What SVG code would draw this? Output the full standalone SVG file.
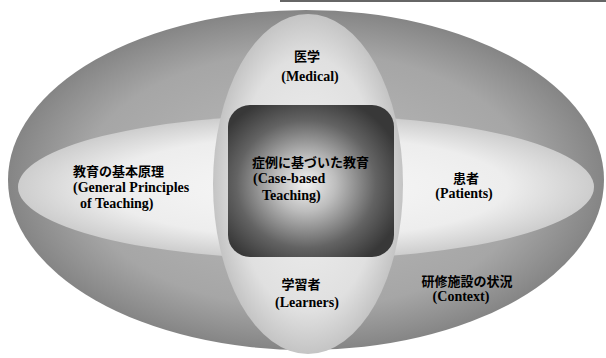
<svg xmlns="http://www.w3.org/2000/svg" width="606" height="358" viewBox="0 0 606 358">
<defs>
<radialGradient id="gOuter" cx="0.5" cy="0.5" r="0.5">
<stop offset="0" stop-color="#bcbcbc"/>
<stop offset="0.75" stop-color="#a6a6a6"/>
<stop offset="1" stop-color="#858585"/>
</radialGradient>
<radialGradient id="gHoriz" cx="0.5" cy="0.5" r="0.5">
<stop offset="0" stop-color="#f8f8f8"/>
<stop offset="0.7" stop-color="#ededed"/>
<stop offset="1" stop-color="#cdcdcd"/>
</radialGradient>
<radialGradient id="gVert" cx="0.5" cy="0.5" r="0.5">
<stop offset="0" stop-color="#f0f0f0"/>
<stop offset="0.75" stop-color="#e0e0e0"/>
<stop offset="1" stop-color="#c4c4c4"/>
</radialGradient>
<radialGradient id="gCore" cx="0.47" cy="0.52" r="0.6">
<stop offset="0" stop-color="#f2f2f2"/>
<stop offset="0.3" stop-color="#bdbdbd"/>
<stop offset="0.7" stop-color="#636363"/>
<stop offset="1" stop-color="#383838"/>
</radialGradient>
<style>
.jp{font-family:"Noto Sans CJK JP","Noto Sans CJK SC",sans-serif;font-weight:bold;font-size:13px;fill:#000}
.en{font-family:"Liberation Serif","Times New Roman",serif;font-weight:bold;font-size:14px;fill:#000}
.c{text-anchor:middle}
</style>
</defs>
<rect x="0" y="0" width="606" height="358" fill="#ffffff"/>
<rect x="280" y="0" width="326" height="2" fill="#666"/>
<g id="context">
<ellipse cx="306" cy="180" rx="298" ry="170" fill="url(#gOuter)"/>
<text class="jp c" x="467" y="285.5">研修施設の状況</text>
<text class="en c" x="461" y="301">(Context)</text>
</g>
<g id="principles-patients">
<ellipse cx="306" cy="187" rx="288" ry="72" fill="url(#gHoriz)"/>
</g>
<g id="medical-learners">
<ellipse cx="308" cy="184" rx="95" ry="170" fill="url(#gVert)"/>
</g>
<g id="principles">
<text class="jp" x="73" y="175.5">教育の基本原理</text>
<text class="en" x="73" y="192">(General Principles</text>
<text class="en" x="80" y="208">of Teaching)</text>
</g>
<g id="patients">
<text class="jp c" x="466" y="182.5">患者</text>
<text class="en c" x="464" y="198">(Patients)</text>
</g>
<g id="medical">
<text class="jp c" x="307" y="61">医学</text>
<text class="en c" x="310" y="81">(Medical)</text>
</g>
<g id="learners">
<text class="jp c" x="301" y="289">学習者</text>
<text class="en c" x="307" y="307">(Learners)</text>
</g>
<g id="case-based">
<rect x="228" y="105" width="166" height="152" rx="22" ry="22" fill="url(#gCore)"/>
<text class="jp" x="252" y="166.5">症例に基づいた教育</text>
<text class="en" x="253" y="183">(Case-based</text>
<text class="en" x="262" y="200">Teaching)</text>
</g>
<g id="connectors"></g>
</svg>
